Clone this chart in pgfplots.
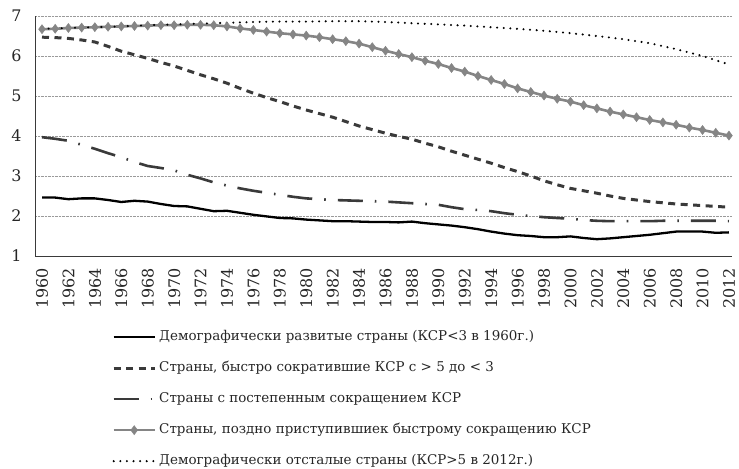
\documentclass[border=0pt]{standalone}
\usepackage{pgfplots}
\pgfplotsset{compat=1.18}
\usepackage{fontspec}
\setmainfont{DejaVu Serif}
\definecolor{dk}{HTML}{3A3A3A}
\definecolor{gr}{HTML}{858585}
\definecolor{gridc}{HTML}{9A9A9A}

\pgfplotstableread{
year s1 s2 s3 s4
1960 2.46 6.47 3.97 6.67
1961 2.46 6.46 3.93 6.68
1962 2.42 6.44 3.88 6.70
1963 2.44 6.40 3.78 6.71
1964 2.44 6.35 3.68 6.72
1965 2.40 6.24 3.57 6.73
1966 2.35 6.12 3.47 6.74
1967 2.38 6.03 3.35 6.75
1968 2.36 5.94 3.25 6.76
1969 2.30 5.84 3.20 6.77
1970 2.25 5.75 3.14 6.77
1971 2.24 5.64 3.03 6.78
1972 2.18 5.53 2.94 6.78
1973 2.12 5.43 2.84 6.77
1974 2.13 5.32 2.76 6.74
1975 2.08 5.19 2.69 6.69
1976 2.03 5.07 2.63 6.65
1977 1.99 4.96 2.58 6.61
1978 1.95 4.86 2.53 6.57
1979 1.94 4.75 2.48 6.54
1980 1.91 4.65 2.44 6.51
1981 1.89 4.56 2.42 6.47
1982 1.87 4.47 2.40 6.42
1983 1.87 4.36 2.39 6.37
1984 1.86 4.25 2.38 6.31
1985 1.85 4.16 2.37 6.22
1986 1.85 4.07 2.36 6.13
1987 1.84 3.99 2.34 6.05
1988 1.86 3.92 2.32 5.97
1989 1.82 3.82 2.30 5.88
1990 1.79 3.73 2.28 5.80
1991 1.76 3.62 2.22 5.70
1992 1.72 3.52 2.17 5.61
1993 1.67 3.42 2.15 5.50
1994 1.61 3.32 2.12 5.40
1995 1.56 3.21 2.07 5.30
1996 1.52 3.11 2.03 5.19
1997 1.50 3.00 2.00 5.10
1998 1.47 2.88 1.97 5.01
1999 1.47 2.78 1.95 4.93
2000 1.49 2.69 1.93 4.86
2001 1.45 2.63 1.90 4.77
2002 1.42 2.57 1.88 4.69
2003 1.44 2.50 1.87 4.61
2004 1.47 2.44 1.87 4.54
2005 1.50 2.40 1.87 4.47
2006 1.53 2.36 1.87 4.40
2007 1.57 2.33 1.88 4.34
2008 1.61 2.30 1.88 4.28
2009 1.61 2.28 1.88 4.21
2010 1.61 2.26 1.88 4.15
2011 1.58 2.24 1.88 4.08
2012 1.59 2.22 1.87 4.01
}\datatable

\pgfplotstableread{
year s5
1960 6.68
1962 6.70
1964 6.72
1966 6.74
1968 6.77
1970 6.79
1972 6.81
1974 6.83
1976 6.85
1978 6.86
1980 6.86
1982 6.87
1984 6.87
1986 6.85
1988 6.82
1990 6.79
1992 6.76
1994 6.72
1996 6.68
1998 6.63
2000 6.57
2002 6.50
2004 6.42
2006 6.32
2008 6.17
2010 6.00
2012 5.79
}\dottable

\begin{document}
\begin{tikzpicture}
\begin{axis}[
  scale only axis, width=697bp, height=240bp,
  xmin=1959.47, xmax=2012.23, ymin=1, ymax=7,
  axis x line*=bottom, axis y line*=left,
  axis line style={draw=dk, line width=0.9bp},
  xtick={1960,1962,...,2012}, ytick={1,2,...,7},
  major tick length=0pt,
  ymajorgrids, grid style={gridc, densely dotted, line width=0.8bp},
  /pgf/number format/assume math mode=true,
  /pgf/number format/1000 sep={},
  tick label style={font=\fontsize{16}{17}\selectfont, text=black!85},
  x tick label style={rotate=90, anchor=east, inner sep=1bp, xshift=-11bp, text depth=0pt},
  y tick label style={xshift=-10bp},
  clip=false,
  legend cell align=left,
  legend style={at={(axis description cs:0.1105,-0.306)}, anchor=north west,
    draw=none, fill=none, inner sep=0pt, row sep=16bp, column sep=3bp,
    font=\fontsize{13.5}{16}\selectfont,
    nodes={inner sep=0pt, text height=11bp, text depth=4bp, text=black!85}},
  legend image code/.code={\draw[mark repeat=2,mark phase=2,#1] plot coordinates {(0bp,0bp) (20.5bp,0bp) (41bp,0bp)};},
]
\addplot[black, line width=2.3bp, line join=round] table[x=year,y=s1] {\datatable};
\addlegendentry{Демографически развитые страны (КСР<3 в 1960г.)}
\addplot[dk, line width=3bp, dash pattern=on 7bp off 5.5bp] table[x=year,y=s2] {\datatable};
\addlegendentry{Страны, быстро сократившие КСР с > 5 до < 3}
\addplot[dk, line width=2.6bp, dash pattern=on 25bp off 12bp on 1.6bp off 12bp] table[x=year,y=s3] {\datatable};
\addlegendentry{Страны с постепенным сокращением КСР}
\addplot[gr, line width=2.6bp, mark=diamond*, mark size=4.5bp, mark options={fill=gr, draw=gr, solid, line width=0.5bp}] table[x=year,y=s4] {\datatable};
\addlegendentry{Страны, поздно приступившиек быстрому сокращению КСР}
\addplot[black, line width=2.3bp, line cap=round, dash pattern=on 0bp off 6.6bp] table[x=year,y=s5] {\dottable};
\addlegendentry{Демографически отсталые страны (КСР>5 в 2012г.)}
\end{axis}
\pgfresetboundingbox
\path[use as bounding box] ([shift={(-35bp,-213bp)}]current axis.south west) rectangle ([shift={(7bp,16bp)}]current axis.north east);
\end{tikzpicture}
\end{document}
